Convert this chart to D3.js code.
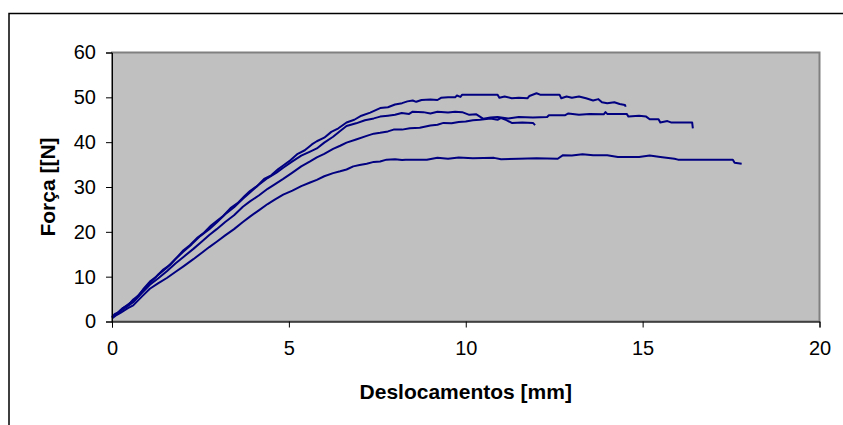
<!DOCTYPE html>
<meta charset="utf-8">
<style>

body {
  margin: 0;
  background: #fff;
}

.tick text {
  font: 20px Arial, "Liberation Sans", sans-serif;
  fill: #000;
}

.title {
  font: bold 21px Arial, "Liberation Sans", sans-serif;
  text-anchor: middle;
}

.curve {
  fill: none;
  stroke: #000080;
  stroke-width: 2px;
  stroke-linejoin: round;
}

</style>

<svg width="843" height="425"></svg>
<script src="https://cdn.jsdelivr.net/npm/d3@7"></script>
<script>

// ensaios: [deslocamento mm, força N]
var curveA = [[0,0.9],[0.08,1.7],[0.2,2.1],[0.3,3.0],[0.45,3.6],[0.6,4.9],[0.75,5.8],[0.9,7.4],[1.07,8.9],[1.25,10.0],[1.45,11.6],[1.65,12.7],[1.85,14.4],[2.02,15.9],[2.2,17.0],[2.4,18.6],[2.6,19.8],[2.8,21.4],[2.96,22.4],[3.15,23.6],[3.35,25.3],[3.55,26.4],[3.75,28.0],[3.9,29.1],[4.1,30.2],[4.3,31.8],[4.5,32.6],[4.7,34.0],[4.84,34.8],[5.05,36.0],[5.25,37.4],[5.45,38.2],[5.65,39.5],[5.79,40.2],[6.0,41.0],[6.2,42.3],[6.4,43.1],[6.63,44.4],[6.85,45.0],[7.05,45.9],[7.3,46.6],[7.58,47.6],[7.8,47.8],[8.0,48.4],[8.2,48.7],[8.35,49.1],[8.5,49.3],[8.6,49.0],[8.75,49.4],[9.0,49.5],[9.2,49.4],[9.3,49.9],[9.5,50.0],[9.7,50.0],[9.75,50.4],[9.85,50.1],[9.9,50.6],[10.4,50.6],[10.9,50.6],[10.95,49.9],[11.1,50.2],[11.3,49.8],[11.5,49.9],[11.75,49.8],[11.8,50.3],[12.0,50.9],[12.1,50.6],[12.65,50.6],[12.7,49.8],[12.85,50.2],[13.0,49.9],[13.2,50.2],[13.4,49.8],[13.6,49.3],[13.75,49.6],[13.85,48.9],[14.0,48.7],[14.2,48.9],[14.35,48.5],[14.5,48.3],[14.52,47.9]];

var curveB = [[0,1.1],[0.1,1.5],[0.25,2.6],[0.4,3.5],[0.6,4.6],[0.8,6.3],[1.07,8.6],[1.3,10.4],[1.55,12.0],[1.8,14.0],[2.02,15.6],[2.25,17.2],[2.5,19.1],[2.75,20.6],[2.96,22.1],[3.2,23.9],[3.45,25.5],[3.7,27.4],[3.9,28.8],[4.15,30.5],[4.4,32.0],[4.65,33.2],[4.84,34.3],[5.1,35.7],[5.35,37.0],[5.6,37.9],[5.79,38.6],[6.0,39.9],[6.25,41.2],[6.45,42.5],[6.63,43.6],[6.9,44.2],[7.15,44.9],[7.4,45.3],[7.58,45.7],[7.8,45.9],[8.0,46.1],[8.19,46.5],[8.4,46.3],[8.5,46.8],[8.8,46.7],[9.0,46.4],[9.2,46.8],[9.5,46.6],[9.7,46.8],[9.9,46.7],[10.1,46.1],[10.3,46.2],[10.5,45.2],[10.7,45.5],[10.9,45.6],[11.2,45.3],[11.5,45.6],[11.9,45.5],[12.3,45.6],[12.35,46.0],[12.8,46.0],[12.9,46.4],[13.2,46.1],[13.5,46.3],[13.9,46.2],[13.95,46.7],[14.0,46.3],[14.55,46.3],[14.6,45.7],[14.9,45.9],[15.1,45.7],[15.2,45.1],[15.45,45.1],[15.5,44.4],[15.7,44.7],[15.8,44.4],[16.4,44.4],[16.42,43.1]];

var curveC = [[0,1.0],[0.1,1.4],[0.25,2.4],[0.45,3.5],[0.6,4.3],[0.85,6.4],[1.07,8.2],[1.3,9.6],[1.55,11.2],[1.8,13.0],[2.02,14.4],[2.3,16.2],[2.55,17.9],[2.75,19.3],[2.96,20.6],[3.2,22.2],[3.45,23.7],[3.7,25.6],[3.9,26.8],[4.15,28.1],[4.4,29.6],[4.6,30.6],[4.84,31.8],[5.1,33.2],[5.35,34.6],[5.6,35.7],[5.79,36.6],[6.0,37.4],[6.25,38.5],[6.45,39.2],[6.63,39.9],[6.9,40.6],[7.2,41.4],[7.4,41.9],[7.58,42.1],[7.8,42.4],[7.96,42.8],[8.2,42.8],[8.42,43.1],[8.7,43.2],[9.0,43.7],[9.2,43.9],[9.37,44.3],[9.6,44.2],[9.8,44.5],[10.0,44.6],[10.2,44.9],[10.4,45.0],[10.7,45.3],[10.9,45.0],[11.0,45.4],[11.15,44.9],[11.3,44.3],[11.6,44.4],[11.9,44.3],[11.96,43.8]];

var curveD = [[0,0.7],[0.1,1.3],[0.25,2.0],[0.45,3.0],[0.6,3.6],[0.85,5.6],[1.07,7.3],[1.3,8.5],[1.55,9.7],[1.8,11.1],[2.02,12.3],[2.3,13.9],[2.55,15.4],[2.75,16.6],[2.96,17.8],[3.2,19.2],[3.45,20.6],[3.7,22.2],[3.9,23.4],[4.15,24.8],[4.4,26.2],[4.6,27.2],[4.84,28.3],[5.1,29.2],[5.35,30.2],[5.6,31.0],[5.79,31.6],[6.0,32.4],[6.25,33.1],[6.45,33.5],[6.63,33.9],[6.82,34.6],[7.0,34.9],[7.2,35.2],[7.4,35.6],[7.58,35.7],[7.76,36.1],[8.0,36.2],[8.2,36.0],[8.3,36.1],[8.9,36.1],[9.2,36.5],[9.5,36.3],[9.8,36.6],[10.2,36.4],[10.8,36.5],[11.0,36.2],[11.5,36.3],[12.0,36.4],[12.6,36.3],[12.75,37.1],[13.0,37.0],[13.3,37.3],[13.6,37.1],[14.0,37.1],[14.3,36.7],[14.9,36.7],[15.2,37.0],[15.5,36.7],[15.9,36.3],[16.0,36.1],[17.0,36.1],[17.55,36.1],[17.6,35.4],[17.8,35.2]];

var xTicks = [0, 5, 10, 15, 20],
    yTicks = [0, 10, 20, 30, 40, 50, 60];

var xLabel = "Deslocamentos [mm]",
    yLabel = "Força [[N]";

var svg = d3.select("svg"),
    plot = {left: 112, top: 52.5, right: 819.5, bottom: 321.5};

// moldura do gráfico (cortada à direita e em baixo)
svg.append("rect")
    .attr("x", 9).attr("y", 13.5)
    .attr("width", 900).attr("height", 500)
    .attr("fill", "none")
    .attr("stroke", "#000")
    .attr("stroke-width", 1.5);

var x = d3.scaleLinear().domain([0, 20]).range([plot.left, plot.right]),
    y = d3.scaleLinear().domain([0, 60]).range([plot.bottom, plot.top]);

// área do gráfico
svg.append("rect")
    .attr("x", plot.left).attr("y", plot.top)
    .attr("width", plot.right - plot.left)
    .attr("height", plot.bottom - plot.top)
    .attr("fill", "#c0c0c0")
    .attr("stroke", "#808080")
    .attr("stroke-width", 2);

var line = d3.line()
    .x(function(d) { return x(d[0]); })
    .y(function(d) { return y(d[1]); });

svg.selectAll(".curve")
    .data([curveD, curveC, curveB, curveA])
    .enter().append("path")
      .attr("class", "curve")
      .attr("d", line);

svg.append("g")
    .attr("transform", "translate(0," + plot.bottom + ")")
    .call(d3.axisBottom(x).tickValues(xTicks).tickSize(6).tickPadding(13))
    .call(function(g) { g.select(".domain").attr("stroke", "#000"); });

svg.append("g")
    .attr("transform", "translate(" + plot.left + ",0)")
    .call(d3.axisLeft(y).tickValues(yTicks).tickSize(6).tickPadding(10))
    .call(function(g) { g.select(".domain").attr("stroke", "#000"); });

svg.selectAll(".tick text").attr("font-family", null).attr("font-size", null);

svg.append("text")
    .attr("class", "title")
    .attr("x", (plot.left + plot.right) / 2)
    .attr("y", 399)
    .text(xLabel);

svg.append("text")
    .attr("class", "title")
    .attr("transform", "translate(54.5," + (plot.top + plot.bottom) / 2 + ") rotate(-90)")
    .text(yLabel);

</script>
